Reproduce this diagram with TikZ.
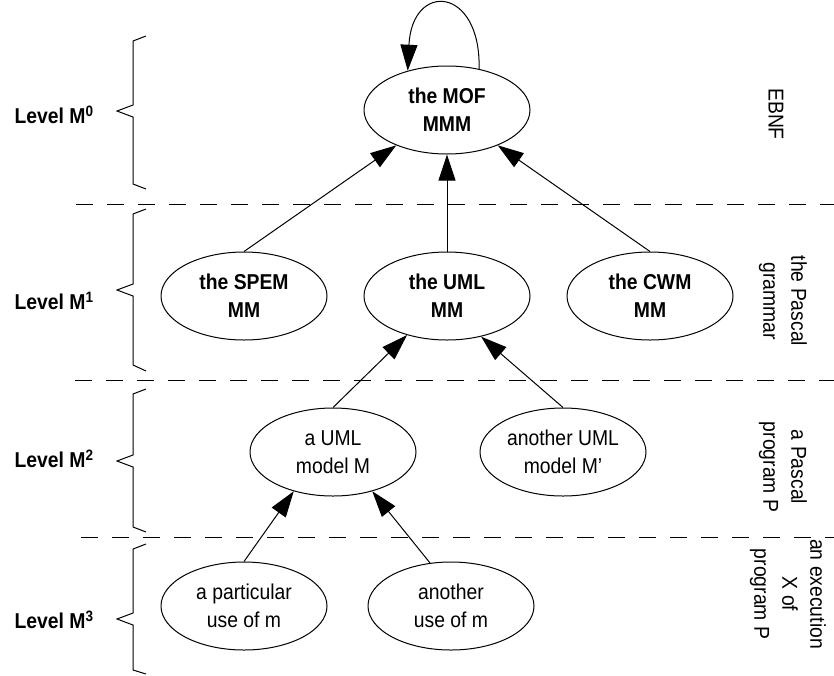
\documentclass[tikz,border=0pt]{standalone}
\usepackage{fontspec}
\setmainfont[FakeStretch=0.9]{Liberation Sans}
\usetikzlibrary{arrows.meta,shapes.geometric}
\tikzset{
  every picture/.style={line join=miter},
  every node/.style={font=\fontsize{21.5}{28}\selectfont},
  mmnode/.style={
    ellipse,
    draw,
    line width=1pt,
    fill=white,
    align=center,
    minimum width=166pt,
    minimum height=88pt,
    inner sep=0pt
  },
  mmbold/.style={mmnode, font=\fontsize{21.5}{28}\selectfont\bfseries},
  levellabel/.style={anchor=west, font=\fontsize{21.5}{28}\selectfont\bfseries},
  sidelabel/.style={rotate=-90, align=center},
  brace/.style={line width=1pt},
  levelsep/.style={line width=1pt, dash pattern=on 17pt off 14pt},
  meta/.style={line width=1pt, -{Triangle[length=26pt, width=17pt]}}
}
\begin{document}
\begin{tikzpicture}[x=1pt, y=-1pt]
  \useasboundingbox (0,0) rectangle (834,675);

  % Nodes
  \node[mmbold] (mof) at (447,110) {the MOF\\MMM};
  \node[mmbold] (spem) at (244,296) {the SPEM\\MM};
  \node[mmbold] (uml) at (447,296) {the UML\\MM};
  \node[mmbold] (cwm) at (650,296) {the CWM\\MM};
  \node[mmnode] (umlmodel) at (333,452) {a UML\\model M};
  \node[mmnode] (othermodel) at (563,452) {another UML\\model M'};
  \node[mmnode] (use1) at (244,606) {a particular\\use of m};
  \node[mmnode] (use2) at (451,606) {another\\use of m};

  % Level separators
  \draw[levelsep] (76,204) -- (834,204);
  \draw[levelsep] (75,380) -- (834,380);
  \draw[levelsep] (81,537) -- (834,537);

  % Braces
  \draw[brace] (146,36) -- (133,41) -- (133,105) -- (117,111) -- (133,117) -- (133,184) -- (146,189);
  \draw[brace] (146,209) -- (133,214) -- (133,284) -- (117,290) -- (133,296) -- (133,365) -- (146,371);
  \draw[brace] (146,389) -- (133,394) -- (133,455) -- (117,461) -- (133,467) -- (133,527) -- (146,532);
  \draw[brace] (146,544) -- (133,549) -- (133,613) -- (117,619) -- (133,625) -- (133,670) -- (146,674);

  % Level labels
  \node[levellabel] (lvl0) at (11,115) {Level M\textsuperscript{0}};
  \node[levellabel] (lvl1) at (11,301) {Level M\textsuperscript{1}};
  \node[levellabel] (lvl2) at (11,459) {Level M\textsuperscript{2}};
  \node[levellabel] (lvl3) at (11,620) {Level M\textsuperscript{3}};

  % Side labels
  \node[sidelabel] (side0) at (776,114) {EBNF};
  \node[sidelabel] (side1) at (783,301) {the Pascal\\grammar};
  \node[sidelabel] (side2) at (783,467) {a Pascal\\program P};
  \node[sidelabel] (side3) at (788,594) {an execution\\X of\\program P};

  % Instance-of arrows
  \draw[meta] (mof.52) .. controls (481,-14) and (412,-19) .. (mof.135);
  \draw[meta] (spem.north) -- (mof);
  \draw[meta] (uml.north) -- (mof.south);
  \draw[meta] (cwm.north) -- (mof);
  \draw[meta] (umlmodel.north) -- (uml);
  \draw[meta] (othermodel.north) -- (uml.-50);
  \draw[meta] (use1.north) -- (umlmodel.225);
  \draw[meta] (use2.116) -- (umlmodel.-45);
\end{tikzpicture}
\end{document}
